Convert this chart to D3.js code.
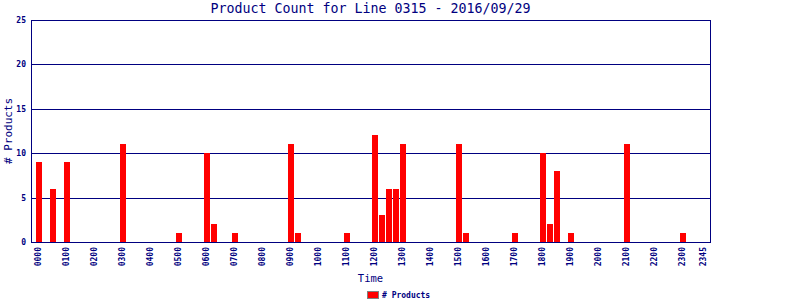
<!DOCTYPE html>
<meta charset="utf-8">
<style>
body{ margin:0; background:#fff; }
text{ font-family:"DejaVu Sans Mono", monospace; fill:#000080; }
</style>
<body>
<script src="https://d3js.org/d3.v7.min.js"></script>
<script>
// 15 minute slots, 0000 .. 2345
var slots = d3.range(96).map(function(i){
  return d3.format("02d")(Math.floor(i/4)) + d3.format("02d")((i%4)*15);
});
// slots with products (all others are zero)
var barSlots  = ["0000","0030","0100","0300","0500","0600","0615","0700","0900","0915","1100","1200","1215","1230","1245","1300","1500","1515","1700","1800","1815","1830","1900","2100","2300"];
var barValues = [9,6,9,11,1,10,2,1,11,1,1,12,3,6,6,11,11,1,1,10,2,8,1,11,1];
var tickLabels = ["0000","0100","0200","0300","0400","0500","0600","0700","0800","0900","1000","1100","1200","1300","1400","1500","1600","1700","1800","1900","2000","2100","2200","2300","2345"];
var yTicks = [0,5,10,15,20,25];

var width = 800, height = 300;
var plotL = 31, plotR = 710, plotT = 20, plotB = 242;
var navy = "#000080";

var svg = d3.select("body").append("svg")
    .attr("width", width)
    .attr("height", height);

var x = d3.scaleLinear().domain([-1, 96]).range([plotL, plotR]);
var y = d3.scaleLinear().domain([0, 25]).range([plotB, plotT]);

// title
svg.append("text")
    .attr("x", (plotL + plotR)/2).attr("y", 13)
    .attr("text-anchor", "middle")
    .style("font-size", "13.3px")
    .text("Product Count for Line 0315 - 2016/09/29");

// grid lines
svg.selectAll(".grid").data(yTicks).enter().append("line")
    .attr("x1", plotL).attr("x2", plotR)
    .attr("y1", function(d){ return Math.round(y(d)) + 0.5; })
    .attr("y2", function(d){ return Math.round(y(d)) + 0.5; })
    .attr("stroke", navy).attr("stroke-width", 1);

// bars
var data = barSlots.map(function(s, i){ return {slot: slots.indexOf(s), value: barValues[i]}; });
svg.selectAll(".bar").data(data).enter().append("rect")
    .attr("x", function(d){ return Math.round(x(d.slot)) - 2; })
    .attr("width", 6)
    .attr("y", function(d){ return Math.round(y(d.value)); })
    .attr("height", function(d){ return Math.round(y(0)) - Math.round(y(d.value)); })
    .attr("fill", "#ff0000");

// frame sides
svg.append("line").attr("x1", plotL + 0.5).attr("x2", plotL + 0.5).attr("y1", plotT).attr("y2", plotB + 1)
    .attr("stroke", navy);
svg.append("line").attr("x1", plotR + 0.5).attr("x2", plotR + 0.5).attr("y1", plotT).attr("y2", plotB + 1)
    .attr("stroke", navy);

// y tick labels
svg.selectAll(".ylab").data(yTicks).enter().append("text")
    .attr("x", plotL - 5)
    .attr("y", function(d){ return y(d) + 3; })
    .attr("text-anchor", "end")
    .style("font-size", "8px")
    .style("font-weight", "bold")
    .text(function(d){ return d; });

// x tick labels
svg.selectAll(".xlab").data(tickLabels).enter().append("text")
    .attr("transform", function(d){
      return "translate(" + (x(slots.indexOf(d)) + 3) + "," + (plotB + 5) + ") rotate(-90)";
    })
    .attr("text-anchor", "end")
    .style("font-size", "8px")
    .style("font-weight", "bold")
    .text(function(d){ return d; });

// axis titles
svg.append("text")
    .attr("x", (plotL + plotR)/2).attr("y", 282)
    .attr("text-anchor", "middle")
    .style("font-size", "10.5px")
    .text("Time");
svg.append("text")
    .attr("transform", "translate(12," + (plotT + plotB)/2 + ") rotate(-90)")
    .attr("text-anchor", "middle")
    .style("font-size", "11px")
    .text("# Products");

// legend
svg.append("rect")
    .attr("x", 367.5).attr("y", 291.5).attr("width", 11).attr("height", 7)
    .attr("fill", "#ff0000").attr("stroke", "#808080");
svg.append("text")
    .attr("x", 382).attr("y", 298)
    .style("font-size", "8px")
    .style("font-weight", "bold")
    .text("# Products");
</script>
